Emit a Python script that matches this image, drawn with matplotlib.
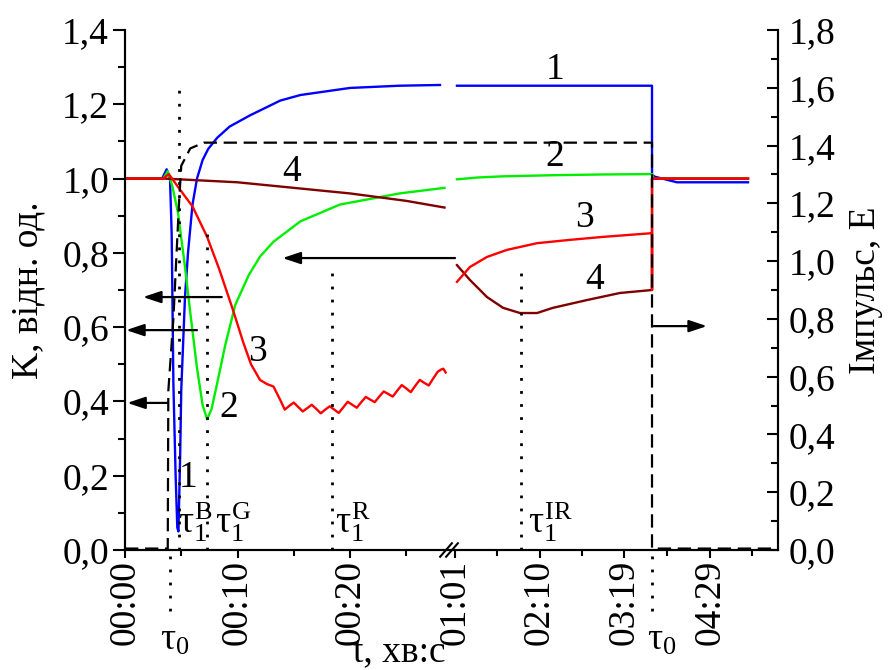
#!/usr/bin/env python3
# -*- coding: utf-8 -*-

"""Relative transmission K of the four channels after an impulse, with a
broken time axis (00:00..00:29 and 01:01..05:25)."""

import matplotlib
matplotlib.use('agg')
import matplotlib.pyplot as plt
import numpy as np
from matplotlib.patches import ArrowStyle
from matplotlib.ticker import FixedLocator, FuncFormatter, MultipleLocator

plt.rcParams['font.family'] = ['Liberation Serif', 'DejaVu Serif']
plt.rcParams['mathtext.fontset'] = 'custom'
plt.rcParams['mathtext.rm'] = 'Liberation Serif'
plt.rcParams['mathtext.it'] = 'Liberation Serif'
plt.rcParams['mathtext.bf'] = 'Liberation Serif:bold'

NAN = np.nan

# time, s (NaN splits the two parts of the broken axis)
blue_t = [0, 3.3, 3.7, 4.0, 4.15, 4.3, 4.5, 4.65, 4.75, 4.9, 5.0, 5.33, 5.6,
          6.0, 6.4, 6.9, 7.4, 8.2, 9.3, 11.1, 13.8, 15.6, 20.0, 24.4, 28.0,
          NAN, 62.6, 221.7, 221.7, 224, 242, 300]
blue_k = [1.0, 1.0, 1.025, 1.0, 0.85, 0.45, 0.2, 0.06, 0.05, 0.25, 0.43, 0.68,
          0.8, 0.93, 1.0, 1.05, 1.08, 1.11, 1.14, 1.17, 1.21, 1.225, 1.244,
          1.25, 1.252, NAN, 1.25, 1.25, 1.01, 1.005, 0.99, 0.99]

green_t = [0, 3.4, 3.8, 4.2, 4.7, 5.3, 5.8, 6.4, 6.9, 7.3, 7.7, 8.2, 8.9, 9.8,
           11.0, 12.0, 13.2, 15.6, 19.1, 24.4, 28.4,
           NAN, 62.6, 80, 100, 140, 180, 221.7, 223, 300]
green_k = [1.0, 1.0, 1.02, 0.98, 0.91, 0.77, 0.64, 0.49, 0.39, 0.352, 0.38,
           0.45, 0.55, 0.66, 0.74, 0.79, 0.83, 0.885, 0.93, 0.96, 0.975,
           NAN, 0.998, 1.003, 1.006, 1.009, 1.011, 1.012, 1.0, 1.0]

red_t = [0, 3.4, 3.9, 4.7, 6.0, 7.3, 8.4, 9.6, 10.5, 11.2, 12.0, 12.6, 13.2,
         13.8, 14.2, 14.6, 15.0, 15.4, 15.8, 16.2, 16.6, 17.0, 17.4, 17.8,
         18.2, 18.6, 19.0, 19.4, 19.8, 20.2, 20.6, 21.0, 21.4, 21.8, 22.2,
         22.6, 23.0, 23.4, 23.8, 24.2, 24.6, 25.0, 25.4, 25.8, 26.2, 26.6,
         27.0, 27.4, 27.8, 28.1, 28.3, 28.5,
         NAN, 62.6, 73.2, 87.1, 103.4, 127.9, 154.8, 181.7, 221.7, 221.7,
         221.7, 300]
red_k = [1.0, 1.0, 1.012, 0.978, 0.925, 0.843, 0.754, 0.646, 0.56, 0.50,
         0.458, 0.447, 0.44, 0.404, 0.378, 0.388, 0.397, 0.385, 0.373, 0.382,
         0.391, 0.380, 0.368, 0.378, 0.387, 0.378, 0.369, 0.384, 0.399, 0.391,
         0.383, 0.398, 0.412, 0.405, 0.398, 0.413, 0.427, 0.420, 0.413, 0.429,
         0.444, 0.435, 0.425, 0.442, 0.458, 0.450, 0.443, 0.462, 0.480, 0.486,
         0.488, 0.478,
         NAN, 0.722, 0.762, 0.789, 0.808, 0.826, 0.835, 0.843, 0.853, 0.70,
         1.0, 1.0]

maroon_t = [0, 3.5, 10, 15, 20, 25, 28.4,
            NAN, 62.6, 73.2, 87.1, 100.2, 114.0, 127.9, 140.9, 168.7, 195.6,
            221.7, 221.7, 300]
maroon_k = [1.0, 1.0, 0.99, 0.975, 0.96, 0.94, 0.922,
            NAN, 0.767, 0.727, 0.681, 0.652, 0.638, 0.638, 0.652, 0.673,
            0.692, 0.700, 1.0, 1.0]

# impulse, E (right axis)
imp_t = [0, 3.8, 3.85, 4.3, 4.8, 5.0, 5.8, 7.0, 221.7, 221.7, 324.5]
imp_e = [0.005, 0.005, 0.55, 0.8, 1.2, 1.33, 1.39, 1.41, 1.41, 0.005, 0.005]

xtick_t = [0, 10, 20, 61, 130, 199, 269]
xtick_labels = ['00:00', '00:10', '00:20', '01:01', '02:10', '03:19', '04:29']
xminor_t = [5, 15, 25, 95.5, 164.5, 234, 303.5]

# tau markers: time, top of dotted line, label
tau_t = [4.8, 7.3, 18.4, 114.8]
tau_top = [1.252, 0.85, 0.75, 0.76]
tau_label_t = [4.7, 8.0, 18.7, 120.5]
tau_labels = [r'$\tau_1^B$', r'$\tau_1^G$', r'$\tau_1^R$', r'$\tau_1^{IR}$']
tau0_t = [4.0, 221.7]
tau0_label_t = [3.1, 217.6]

# curve numbers
num_t = [142.6, 142.6, 167.0, 175.2, 14.8, 11.8, 9.2, 5.6]
num_k = [1.292, 1.058, 0.894, 0.727, 1.018, 0.534, 0.382, 0.194]
num_txt = ['1', '2', '3', '4', '4', '3', '2', '1']

BREAK_A, BREAK_B = 28.7, 61.0
K1, K2 = 11.25, 1.226
U_A, U_B = BREAK_A * K1, 330.0
T_END = BREAK_B + (653 - U_B) / K2


def fwd(t):
    t = np.asarray(t, dtype=float)
    mid = U_A + (t - BREAK_A) * (U_B - U_A) / (BREAK_B - BREAK_A)
    return np.where(t <= BREAK_A, t * K1,
                    np.where(t >= BREAK_B, U_B + (t - BREAK_B) * K2, mid))


def inv(u):
    u = np.asarray(u, dtype=float)
    mid = BREAK_A + (u - U_A) * (BREAK_B - BREAK_A) / (U_B - U_A)
    return np.where(u <= U_A, u / K1,
                    np.where(u >= U_B, BREAK_B + (u - U_B) / K2, mid))


def comma(v, pos=None):
    return f'{v:.1f}'.replace('.', ',')


FS = 27
fig = plt.figure(figsize=(8.89, 6.7), dpi=100)
ax = fig.add_axes([125 / 889, 1 - 550 / 670, 653 / 889, 520 / 670])
ax.set_xscale('function', functions=(fwd, inv))
ax2 = ax.twinx()

lw = 1.7
ax.plot(blue_t, blue_k, color='#0000ff', lw=lw)
ax.plot(green_t, green_k, color='#00ee00', lw=lw)
ax.plot(maroon_t, maroon_k, color='#800000', lw=lw)
ax.plot(red_t, red_k, color='#ff0000', lw=lw)
ax2.plot(imp_t, imp_e, color='k', lw=1.6, ls=(0, (6, 3)))

dot = (0, (1, 3.7))
for t, top in zip(tau_t, tau_top):
    ax.plot([t, t], [0, top], color='k', lw=2, ls=dot)
for t in tau0_t:
    ax.plot([t, t], [-0.015, -0.19], color='k', lw=2, ls=dot, clip_on=False)

for t, s in zip(tau_label_t, tau_labels):
    ax.text(t, 0.046, s, fontsize=FS, ha='left', va='baseline')
for t in tau0_label_t:
    ax.text(t, -0.269, r'$\tau_0$', fontsize=FS, ha='left', va='baseline',
            clip_on=False)

for t, k, s in zip(num_t, num_k, num_txt):
    ax.text(t, k, s, fontsize=FS, ha='center', va='center')

head = ArrowStyle('-|>', head_length=0.6, head_width=0.2)
props = dict(arrowstyle=head, color='k', lw=1.6, mutation_scale=18,
             shrinkA=0, shrinkB=0)
for y, t0, t1 in [(0.681, 8.6, 1.6), (0.592, 6.4, 0.1), (0.396, 3.8, 0.2),
                  (0.786, 61.0, 14.0)]:
    ax.annotate('', xy=(t1, y), xytext=(t0, y), arrowprops=props)
ax2.annotate('', xy=(266.5, 0.775), xytext=(223, 0.775), arrowprops=props)

# axis break marks
for xc in ((446 - 125) / 653, (452 - 125) / 653):
    ax.plot([xc - 0.009, xc + 0.009], [-0.013, 0.013], transform=ax.transAxes,
            color='k', lw=1.5, clip_on=False)

ax.set_xlim(0, T_END)
ax.set_ylim(0, 1.4)
ax2.set_ylim(0, 1.8)

ax.xaxis.set_major_locator(FixedLocator(xtick_t))
ax.xaxis.set_minor_locator(FixedLocator(xminor_t))
ax.set_xticklabels(xtick_labels)
ax.yaxis.set_major_locator(MultipleLocator(0.2))
ax.yaxis.set_minor_locator(MultipleLocator(0.1))
ax.yaxis.set_major_formatter(FuncFormatter(comma))
ax2.yaxis.set_major_locator(MultipleLocator(0.2))
ax2.yaxis.set_minor_locator(MultipleLocator(0.1))
ax2.yaxis.set_major_formatter(FuncFormatter(comma))

ax.tick_params(axis='x', which='major', direction='out', length=6, width=1.5,
               labelsize=FS, pad=1, labelrotation=90)
ax.tick_params(axis='x', which='minor', direction='out', length=4, width=1.5)
ax.tick_params(axis='y', which='major', direction='out', length=8.5,
               width=1.5, labelsize=FS, pad=3)
ax.tick_params(axis='y', which='minor', direction='out', length=5, width=1.5)
ax2.tick_params(axis='y', which='major', direction='in', length=8, width=1.5,
                labelsize=FS, pad=8)
ax2.tick_params(axis='y', which='minor', direction='in', length=5, width=1.5)

for a in (ax, ax2):
    a.spines['top'].set_visible(False)
    for sp in a.spines.values():
        sp.set_linewidth(1.5)

ax.set_ylabel('K, відн. од.', fontsize=FS)
ax.yaxis.set_label_coords(-0.122, 0.5)
ax2.set_ylabel('Імпульс, Е', fontsize=FS)
ax2.yaxis.set_label_coords(1.108, 0.5)
fig.text(353 / 889, 1 - 661 / 670, 't, хв:с', fontsize=FS, ha='left',
         va='baseline')

fig.savefig('out.png', dpi=100)
